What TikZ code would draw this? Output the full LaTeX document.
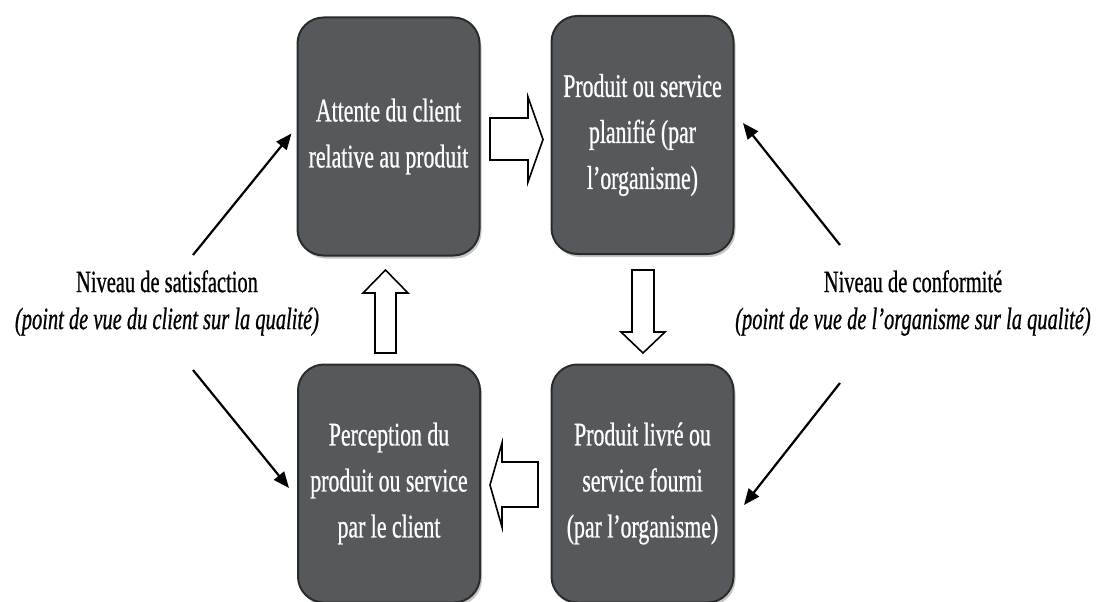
\documentclass[tikz,border=0pt]{standalone}
\usepackage{fontspec}
\setmainfont[FakeStretch=0.66, FakeBold=0.7]{Liberation Serif}
\usetikzlibrary{arrows.meta,shadows}
\definecolor{boitegris}{HTML}{55595B}
\definecolor{bordgris}{HTML}{2A2C2C}
\tikzset{
	boite/.style={draw=bordgris, line width=2pt, fill=boitegris, rounded corners=26pt,
		minimum width=182pt, minimum height=238pt, text=white, align=center,
		font=\fontsize{33}{46}\selectfont,
		drop shadow={shadow xshift=2pt, shadow yshift=-3pt, opacity=0.45}},
	fleche/.style={line width=2.2pt, -{Triangle[length=16pt,width=13pt]}},
	bloc/.style={draw=black, line width=1.6pt, fill=white, line join=miter},
	niveau/.style={align=center, font=\fontsize{31}{37}\selectfont}
}

\begin{document}
\begin{tikzpicture}[x=1pt, y=-1pt]
			%%%%% START %%%%%
			\useasboundingbox (0, 0) rectangle (1096, 602);
			
			\node[boite] (attente) at (388.5, 136.5) {Attente du client\\relative au produit};
			\node[boite] (planifie) at (642.5, 135) {Produit ou service\\planifié (par\\l'organisme)};
			\node[boite] (perception) at (389, 483.5) {Perception du\\produit ou service\\par le client};
			\node[boite] (livre) at (642.5, 483.5) {Produit livré ou\\service fourni\\(par l’organisme)};
			
			\node[niveau] (satisfaction) at (167, 303) {Niveau de satisfaction\\\textit{(point de vue du client sur la qualité)}};
			\node[niveau] (conformite) at (913, 303) {Niveau de conformité\\\textit{(point de vue de l’organisme sur la qualité)}};
			
			\draw[bloc] (490, 118) -- (528, 118) -- (528, 97) -- (543, 139.5) -- (528, 182) -- (528, 160) -- (490, 160) -- cycle;
			\draw[bloc] (632, 270) -- (654, 270) -- (654, 332) -- (665, 332) -- (643, 353) -- (621, 332) -- (632, 332) -- cycle;
			\draw[bloc] (538, 462) -- (502, 462) -- (502, 443) -- (490, 485) -- (502, 527) -- (502, 507) -- (538, 507) -- cycle;
			\draw[bloc] (375, 353) -- (375, 293) -- (363, 293) -- (385.5, 270) -- (408, 293) -- (396, 293) -- (396, 353) -- cycle;
			
			\coordinate (s1) at (193, 255);
			\coordinate (s2) at (193, 370);
			\coordinate (c1) at (840, 245);
			\coordinate (c2) at (840, 383);
			
			\draw[fleche] (s1) -- ([shift={(-5, -3)}]attente.west);
			\draw[fleche] (s2) -- ([shift={(-8, 4.5)}]perception.west);
			\draw[fleche] (c1) -- ([shift={(8.5, -12)}]planifie.east);
			\draw[fleche] (c2) -- ([shift={(9.5, 21.5)}]livre.east);
			%%%%% END %%%%%
\end{tikzpicture}
\end{document}
